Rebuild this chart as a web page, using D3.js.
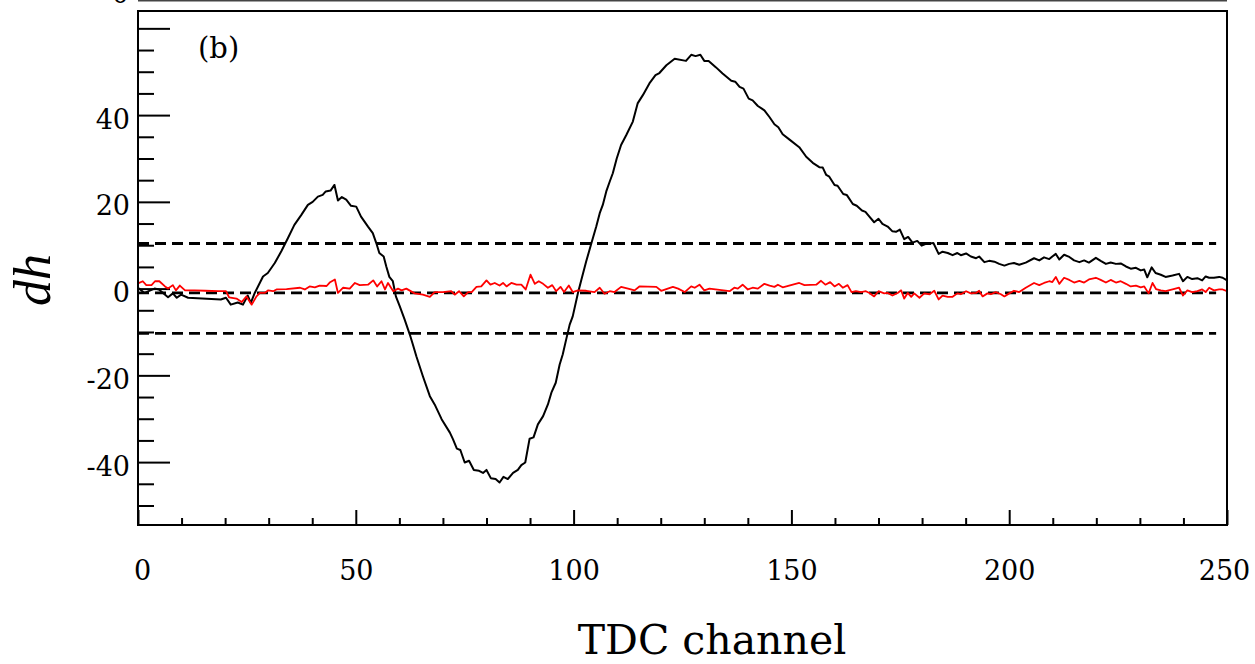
<!DOCTYPE html>
<html>
<head>
<meta charset="utf-8">
<script src="https://cdn.jsdelivr.net/npm/d3@7"></script>
<style>
  body{margin:0;background:#fff;}
  svg{display:block;}
  text{font-family:"DejaVu Serif",serif;fill:#000;}
</style>
</head>
<body>
<svg id="chart" width="1255" height="664"></svg>
<script>
// channels / dh
const blackTrace=[[0,0.2],[1.5,-1],[3.8,0],[4.8,-0.2],[6.9,-2],[8,-1.1],[8.9,-2.1],[9.9,-1.4],[11.5,-2.1],[19,-2.5],[20.2,-2.1],[21.3,-3.7],[22.9,-3.2],[24.1,-3.7],[25.2,-1.6],[25.9,-3.3],[26.8,-1],[28.7,2.8],[29.8,3.6],[31.4,5.9],[32.9,8.6],[34.4,11.6],[35.9,14.7],[37.5,17],[39,19.3],[40.1,20],[41.3,21.2],[42.4,21.6],[43.1,22.4],[44.2,22.6],[45.1,23.9],[45.9,20.3],[46.8,21.1],[47.8,20.5],[48.9,19.1],[50.1,18.9],[51.2,16.6],[52.8,14.3],[53.9,12.8],[54.7,10.5],[55.4,8.2],[56.4,7.4],[57,5.1],[57.7,2.7],[58.5,1.7],[59.2,-1.8],[60.1,-4.1],[61.2,-7.1],[62.4,-10.6],[63.1,-12.9],[63.9,-15.6],[65.4,-20.2],[67,-24.8],[68.1,-26.7],[69.7,-30.1],[71.6,-33.2],[72.3,-34.7],[73.2,-36.9],[74,-37.2],[75,-40.1],[76,-39.7],[77.1,-41.8],[78.3,-42],[79.2,-42.5],[80,-41.8],[81,-43.7],[82.1,-43.9],[83,-44.7],[83.9,-43.4],[84.9,-43.9],[86.1,-42.5],[87.2,-41.8],[88,-40.7],[88.9,-40.1],[89.9,-34.6],[90.8,-34.3],[91.8,-31.3],[93,-29.4],[94.1,-26.7],[94.9,-24],[95.9,-21.7],[96.8,-17.5],[97.5,-15.2],[98.3,-11.7],[99.1,-8.3],[99.8,-6.4],[101,-1],[101.8,2.1],[102.9,6.3],[104.1,10.5],[105.2,14.3],[106,17.4],[106.7,19.3],[107.5,22.4],[108.3,24.7],[109,26.6],[109.9,30],[110.9,33.1],[112.1,35.4],[113.6,38.5],[114.7,42.7],[115.9,44.6],[117.4,47.3],[118.8,49.2],[119.7,49.7],[121.3,51.5],[123.2,53],[125.8,52.5],[127,53.9],[128,53.6],[129.1,53.9],[130,52.5],[131,52.5],[132.7,51],[134.2,49.6],[136.2,47.9],[137.1,47.7],[138.1,46.5],[139,46.1],[140.2,43.8],[141.1,43.4],[142.3,42.1],[143.8,41.1],[145,39.5],[146.1,37.9],[147,37.2],[148,35.6],[149.5,34.4],[151.8,32.6],[153.4,30.4],[154.9,29],[156.4,28],[157.2,27.9],[158,26.2],[158.7,25.8],[159.9,23.9],[160.6,23.7],[161.9,21.8],[162.7,21.6],[164.1,19.5],[165,19.1],[166.2,18],[167,17.7],[167.9,16.6],[169,15.3],[170,16.1],[170.9,14.9],[172.1,14.3],[173.2,13.2],[174,13.1],[174.9,13.6],[175.9,11.4],[176.8,11.9],[177.8,10.6],[178.9,11],[179.9,9.9],[180.9,10.3],[181.7,10.4],[182.6,10.5],[183.8,8],[184.7,8.5],[185.9,8.2],[187,7.7],[188.1,8.2],[188.9,7.7],[190.1,8.1],[191.2,7.4],[192.4,7],[193.1,7.4],[194.3,6.1],[195.4,6.4],[196.6,6.2],[197.7,5.7],[198.9,5.3],[200,5.7],[201.1,5.9],[202.3,5.5],[203.8,6],[205.7,7],[206.9,6.5],[208,7.2],[209.2,6.8],[209.9,7.4],[210.7,8],[211.5,6.7],[212.6,7.8],[213.8,7.3],[214.9,6.5],[216.1,6.1],[217.2,6.5],[218.3,6],[219.9,7.1],[221,6.4],[222.2,5.7],[223.3,6],[224.5,5.7],[225.6,5.8],[226.8,5.1],[227.9,4.6],[229.1,4.8],[230.2,4.2],[231,4.4],[231.7,2.6],[232.7,4.9],[233.6,3.6],[234.8,3.2],[235.9,2.7],[237.5,3],[239,3.4],[239.9,1.7],[240.9,2.7],[242,2.2],[243.2,2.4],[244.3,1.9],[245.1,2.8],[245.9,2.5],[247,2.5],[248.2,2.7],[249,2.5],[250,1.9]]

const redTrace=[[0,1.2],[1.1,1.7],[1.9,0.8],[3.1,0.8],[3.9,1.7],[4.9,1.7],[6.2,0.5],[6.9,0],[8,0.8],[8.7,-0.4],[9.6,0.7],[10.8,-0.4],[13,-0.4],[15.4,-0.5],[18.4,-0.6],[20.2,-0.6],[20.9,-2],[22.6,-2.3],[23.8,-3.1],[24.9,-1.8],[26.1,-3.7],[27.2,-1.8],[28,-1],[29.1,-1],[29.9,-0.4],[31,-0.6],[31.8,-0.2],[34.1,-0.1],[37.2,0.2],[38.3,-0.2],[39.4,0.5],[40.6,0.3],[41.7,0.7],[43.3,0.6],[44,1.4],[45.2,2.1],[45.9,-1],[47.1,0.2],[48.6,0],[49.8,1.3],[50.9,0.8],[52.8,0.9],[54,1.9],[54.9,0.5],[55.9,1.7],[56.7,-0.2],[57.4,1.3],[58.6,-0.6],[59.7,0],[60.5,-0.4],[61.6,0],[63.5,-1.1],[65.4,-1.4],[67,-1.9],[68.1,-0.8],[70,-0.8],[71.9,-0.6],[72.7,-1.4],[73.7,-0.6],[74.8,-1.8],[75.8,-0.8],[76.6,-0.8],[77.7,0.4],[78.8,0.5],[80,1.9],[80.9,0.9],[81.9,1.3],[83,0.7],[83.8,1.3],[84.6,0.5],[85.7,1.3],[86.9,0.9],[88,0.9],[89,-0.2],[90.1,3.2],[91.1,1.1],[92,1.7],[93,1.1],[94.1,0.2],[95.1,0.8],[96,-0.6],[97,0.4],[97.8,-0.8],[98.9,0.7],[99.8,-0.8],[101,-0.4],[102.9,-0.5],[104.8,-0.8],[106,0.2],[107.1,-1.2],[108.3,-0.6],[109.4,-0.8],[110.9,0.4],[112.5,0],[114,-0.4],[115.1,0.5],[119,0.4],[120.1,-0.5],[122.8,0.4],[124,0],[125.5,-0.8],[127,0.5],[127.8,0.2],[128.9,0.9],[130,-0.4],[131.2,0],[135.8,-0.6],[136.9,0.2],[137.7,0],[138.8,0.9],[140,-0.2],[141.1,0.2],[142.3,0],[143.8,1.1],[145,0.7],[146.1,0.4],[146.9,0.9],[148,0.3],[151.8,1.3],[153,0.8],[155.7,0.9],[156.8,1.8],[157.8,0.9],[158.9,1.5],[159.9,0.5],[160.9,1.1],[161.8,0.2],[162.9,0.8],[163.8,-0.8],[164.8,-0.6],[166,-0.8],[167.1,-0.6],[167.9,-1],[169,-1.8],[170,-0.6],[171.3,-1.1],[172.1,-1],[173.2,-1.6],[174.4,-1],[175.2,-0.4],[175.9,-2.3],[176.7,-1],[177.5,-1.9],[178.2,-1.1],[179.4,-2.1],[180.5,-1.1],[181.7,-1.3],[182.8,-0.5],[183.8,-2.5],[184.7,-1.6],[185.9,-1.9],[187,-1.9],[188.1,-1.1],[188.9,-1.3],[190.1,-0.6],[191.2,-1.1],[192.4,-1],[193.1,-0.5],[193.9,-1.8],[195,-1.1],[195.8,-1.3],[196.9,-0.8],[198.1,-1.3],[198.9,-1.8],[200,-1.1],[201.1,-0.5],[202.3,-0.8],[203.8,0.2],[205.7,1.3],[206.9,0.8],[208,1.3],[209.2,1.7],[209.9,1.5],[210.7,2.7],[211.5,1.1],[212.6,2.5],[213.8,2],[214.9,1.4],[216.1,1.8],[217.2,1.4],[218.3,2.1],[219.9,2.5],[221,2],[222.2,1.4],[223.3,2],[224.5,1.4],[225.6,1.7],[226.8,1.1],[227.9,0.5],[229.1,0.7],[230.2,0.3],[231,0.5],[232,-1.1],[232.9,1.3],[233.7,-0.1],[234.8,-0.4],[235.9,-0.6],[237.5,-0.2],[239,0.2],[239.9,-1.6],[240.9,-0.4],[242,-0.8],[243.2,-0.6],[244.3,-0.2],[245.1,-0.8],[245.9,0.2],[247,-0.4],[248.2,-0.2],[249,-0.2],[250,-0.6]]

const dashLevels=[10.4,-1.0,-10.3]
const dashEnd=247.5
const xMajor=[0,50,100,150,200,250]
const xMinor=d3.range(10,250,10).filter(v=>v%50!==0)
const yLabeled=[-40,-20,0,20,40]
const yMajor=[-40,-20,0,20,40,60]
const yMinor=[-50,-45,-35,-30,-25,-15,-10,-5,5,10,15,25,30,35,45,50,55]

let svg=d3.select('#chart')
let x=d3.scaleLinear().domain([0,250]).range([138,1227])
let y=d3.scaleLinear().domain([-54.5,64]).range([525,11])

// bit of the panel above
svg.append('line').attr('x1',138).attr('x2',1227).attr('y1',0.5).attr('y2',0.5)
  .attr('stroke','#444').attr('stroke-width',2)
svg.append('text').attr('x',129).attr('y',3).attr('text-anchor','end')
  .style('font-size','27px').text('0')

// y ticks (inside, pointing right)
let yAxMaj=d3.axisLeft(y).tickValues(yMajor).tickSizeInner(-32).tickSizeOuter(0)
  .tickFormat(d=>yLabeled.includes(d)?d3.format('d')(d).replace('−','-'):'').tickPadding(40)
let gy=svg.append('g').attr('transform','translate(138,0)').call(yAxMaj)
gy.select('.domain').remove()
gy.selectAll('.tick line').attr('stroke','#000').attr('stroke-width',2)
gy.selectAll('.tick text').attr('x',-8).attr('dy','0.48em')
  .style('font-family','"DejaVu Serif",serif').style('font-size','27px').attr('fill','#000')
let yAxMin=d3.axisLeft(y).tickValues(yMinor).tickSizeInner(-16).tickSizeOuter(0).tickFormat('')
let gy2=svg.append('g').attr('transform','translate(138,0)').call(yAxMin)
gy2.select('.domain').remove()
gy2.selectAll('.tick line').attr('stroke','#000').attr('stroke-width',2)

// x ticks (inside, pointing up)
let xAxMaj=d3.axisBottom(x).tickValues(xMajor).tickSizeInner(-15).tickSizeOuter(0).tickFormat(d3.format('d'))
let gx=svg.append('g').attr('transform','translate(0,525)').call(xAxMaj)
gx.select('.domain').remove()
gx.selectAll('.tick line').attr('stroke','#000').attr('stroke-width',2)
gx.selectAll('.tick text').attr('y',55).attr('dy',0)
  .style('font-family','"DejaVu Serif",serif').style('font-size','27px').attr('fill','#000')
gx.selectAll('.tick text').filter(d=>d===0).attr('dx',4)
gx.selectAll('.tick text').filter(d=>d===250).attr('dx',-3)
let xAxMin=d3.axisBottom(x).tickValues(xMinor).tickSizeInner(-7).tickSizeOuter(0).tickFormat('')
let gx2=svg.append('g').attr('transform','translate(0,525)').call(xAxMin)
gx2.select('.domain').remove()
gx2.selectAll('.tick line').attr('stroke','#000').attr('stroke-width',2)

// dashed guide lines
svg.append('g').selectAll('line').data(dashLevels).join('line')
  .attr('x1',x(0)).attr('x2',x(dashEnd))
  .attr('y1',d=>y(d)).attr('y2',d=>y(d))
  .attr('stroke','#000').attr('stroke-width',2.8).attr('stroke-dasharray','11,6')

let line=d3.line().x(d=>x(d[0])).y(d=>y(d[1]))
svg.append('path').datum(blackTrace).attr('d',line)
  .attr('fill','none').attr('stroke','#000').attr('stroke-width',2).attr('stroke-linejoin','round')
svg.append('path').datum(redTrace).attr('d',line)
  .attr('fill','none').attr('stroke','#ff0000').attr('stroke-width',1.8).attr('stroke-linejoin','round')

// frame
svg.append('rect').attr('x',138).attr('y',11).attr('width',1227-138).attr('height',525-11)
  .attr('fill','none').attr('stroke','#000').attr('stroke-width',2)

// labels
svg.append('text').attr('x',198).attr('y',58).style('font-size','29px').text('(b)')
svg.append('text').attr('x',712).attr('y',654).attr('text-anchor','middle')
  .style('font-size','41px').text('TDC channel')
svg.append('text').attr('transform','translate(50,280) rotate(-90)').attr('text-anchor','middle')
  .style('font-family','"Liberation Serif",serif').style('font-style','italic').style('font-size','52px').text('dh')
</script>
</body>
</html>
